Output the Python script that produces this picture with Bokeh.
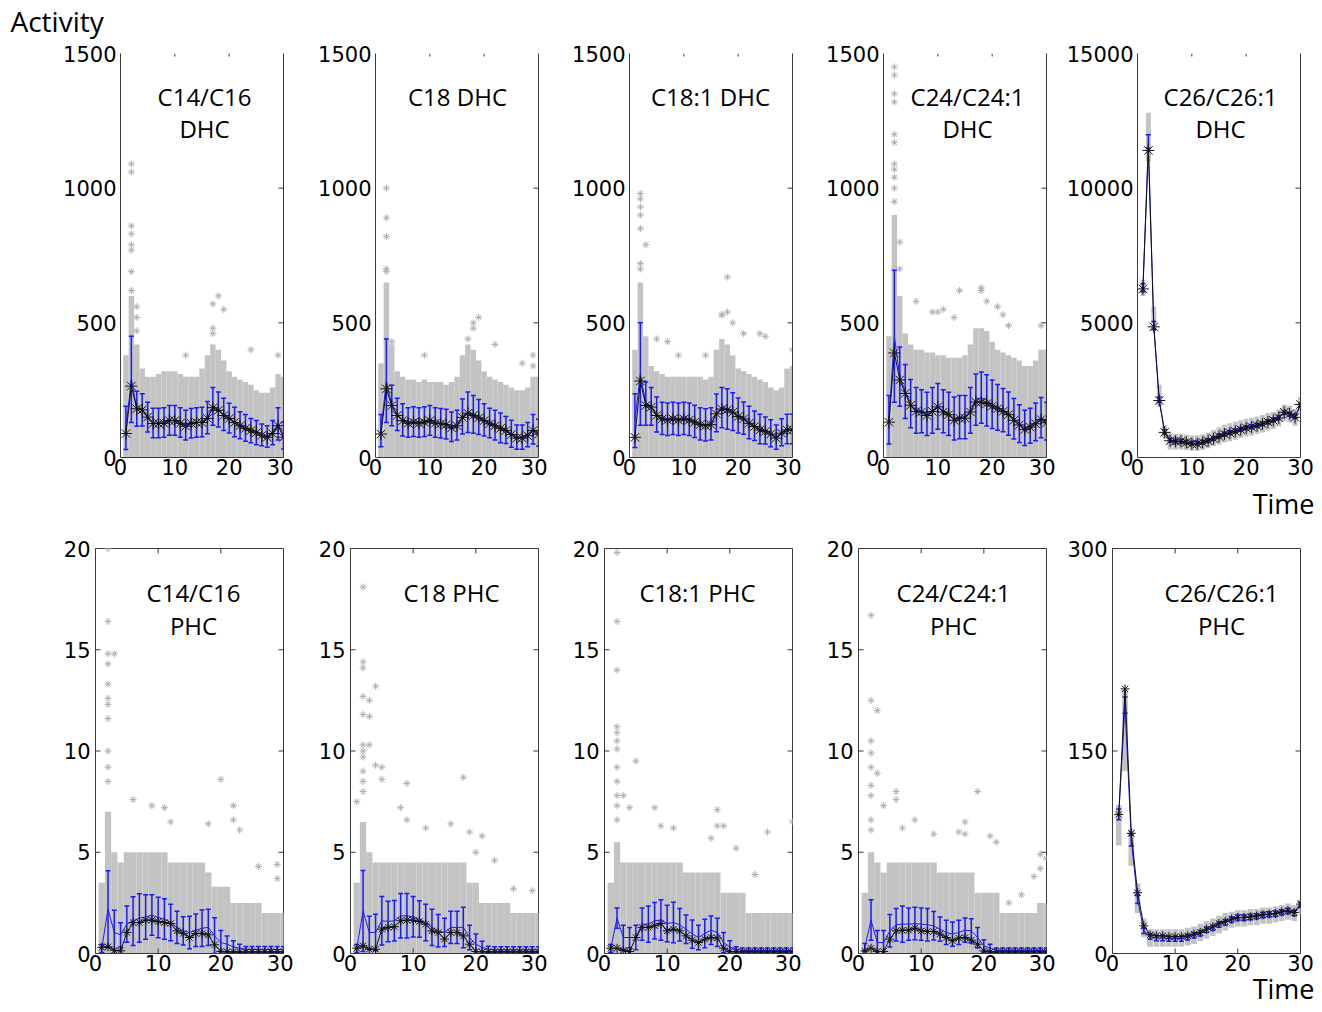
from bokeh.plotting import figure
from bokeh.layouts import row
from bokeh.models import Range1d, LinearAxis, FixedTicker, Label, GridBox
from bokeh.embed import file_html
from bokeh.resources import INLINE

time = list(range(1, 31))
x_ticks = [0, 10, 20, 30]

# ---------------- DHC (top row) ----------------
dhc_c14_black = [89,265,181,177,150,126,126,127,137,137,127,116,127,130,130,145,185,175,156,145,130,118,108,100,92,82,75,89,118,75]
dhc_c14_blue = [110,290,181,177,150,128,128,130,138,138,130,120,127,130,132,148,190,178,160,146,132,120,110,100,92,84,78,92,125,82]
dhc_c14_err = [80,160,65,60,55,55,55,55,55,55,55,55,55,55,55,60,70,65,60,55,55,50,50,45,45,40,40,45,60,50]
dhc_c14_cloud = [380,600,420,330,300,300,310,320,320,320,310,300,300,300,330,380,420,400,360,320,300,290,280,270,250,240,240,260,310,300]
dhc_c14_out_t = [2,2,2,2,2,2,2,2,3,3,3,17,17,17,18,19,12,24,29]
dhc_c14_out_v = [1090,1060,860,830,790,770,690,620,560,520,470,570,480,460,600,550,380,400,380]

dhc_c18_black = [87,255,193,156,137,127,131,127,131,137,127,125,122,110,118,149,164,156,147,137,125,118,108,100,85,72,72,81,100,87]
dhc_c18_blue = [100,285,193,160,140,130,133,130,133,138,130,127,124,114,120,152,168,160,150,140,128,120,110,102,88,76,76,85,105,92]
dhc_c18_err = [60,155,75,60,60,55,55,55,55,55,55,55,55,55,55,65,75,70,65,60,55,55,55,50,50,45,45,45,55,50]
dhc_c18_cloud = [350,650,420,320,300,290,290,280,290,280,280,280,270,280,300,380,420,400,360,320,300,290,280,270,260,250,250,260,300,300]
dhc_c18_out_t = [2,2,2,2,2,3,9,17,18,18,19,22,27,29,29]
dhc_c18_out_v = [1000,890,820,700,690,430,380,440,500,480,520,420,350,380,340]

dhc_c181_black = [75,284,193,187,156,143,139,143,139,143,139,131,122,118,122,162,180,177,168,152,143,127,115,102,97,87,72,90,102,102]
dhc_c181_blue = [137,310,200,190,160,145,142,145,142,145,142,134,125,121,125,166,185,180,170,156,146,130,118,106,100,90,76,94,106,106]
dhc_c181_err = [100,190,80,70,65,60,60,60,60,60,60,60,60,60,60,70,75,75,70,65,60,60,55,55,50,50,45,50,55,55]
dhc_c181_cloud = [400,650,450,340,320,310,300,300,300,300,300,300,300,290,300,400,440,420,380,330,320,310,300,290,280,260,250,260,330,340]
dhc_c181_out_t = [2,2,2,2,2,2,2,3,5,7,9,14,17,17,18,18,19,21,24,25,30]
dhc_c181_out_v = [980,960,930,900,850,720,700,790,440,430,380,380,530,530,670,540,500,460,460,450,400]

dhc_c24_black = [131,388,288,238,194,171,169,156,171,188,169,159,138,146,146,169,206,206,200,191,181,171,159,138,121,104,113,125,141,129]
dhc_c24_blue = [140,450,300,245,200,175,172,162,175,190,172,162,145,150,150,175,215,222,212,198,186,176,163,144,126,110,118,132,148,135]
dhc_c24_err = [90,245,110,100,90,85,80,80,85,85,80,80,80,80,80,85,95,95,95,90,85,80,80,75,70,65,65,70,75,70]
dhc_c24_cloud = [450,900,600,460,420,400,400,390,390,380,380,370,370,370,380,420,480,480,470,430,400,390,380,370,360,340,340,360,400,400]
dhc_c24_out_t = [2,2,2,2,2,2,2,2,2,2,2,3,3,6,9,10,11,13,14,18,18,19,21,22,23,29]
dhc_c24_out_v = [1450,1420,1350,1320,1200,1170,1090,1070,1040,1000,950,800,700,580,540,540,550,520,620,630,620,580,560,530,490,490]

dhc_c26_black = [6260,11400,4850,2115,933,622,600,600,560,510,510,560,620,700,780,870,910,970,1030,1100,1130,1180,1240,1320,1380,1470,1680,1620,1490,1970]
dhc_c26_blue = [6300,11730,4900,2150,950,640,610,600,570,530,530,570,630,710,800,880,930,990,1050,1110,1150,1200,1260,1330,1400,1490,1670,1610,1520,1950]
dhc_c26_err = [150,250,150,100,80,70,70,70,70,70,70,70,70,70,70,70,70,70,70,70,70,70,70,70,70,70,70,70,70,70]
dhc_c26_low = [6000,11000,4700,1900,700,300,300,300,280,250,250,280,340,420,480,560,600,660,720,780,820,870,930,1000,1060,1150,1350,1300,1180,1700]
dhc_c26_high = [6600,12800,5600,2700,1200,900,880,880,850,820,820,860,930,1020,1120,1220,1270,1330,1380,1440,1480,1520,1580,1650,1700,1780,1960,1920,1800,2250]

# ---------------- PHC (bottom row) ----------------
phc_c14_black = [0.30,0.33,0.16,0.13,1.04,1.53,1.53,1.65,1.65,1.58,1.53,1.48,1.12,0.99,0.79,0.99,0.99,0.92,0.43,0.10,0.08,0.08,0.08,0.08,0.08,0.08,0.08,0.08,0.08,0.08]
phc_c14_blue = [0.25,2.19,1.04,0.92,1.45,1.60,1.75,1.80,1.90,1.78,1.70,1.53,1.29,1.12,1.04,1.15,1.25,1.29,0.87,0.54,0.46,0.33,0.26,0.20,0.20,0.20,0.20,0.20,0.20,0.20]
phc_c14_err = [0.2,1.9,1.1,0.6,0.9,1.2,1.2,1.1,1.0,1.0,1.0,0.9,0.8,0.7,0.8,0.8,0.9,0.9,0.9,0.6,0.4,0.3,0.2,0.15,0.15,0.15,0.15,0.15,0.15,0.15]
phc_c14_cloud = [3.5,7.0,5.0,4.5,5.0,5.0,5.0,5.0,5.0,5.0,5.0,4.5,4.5,4.5,4.5,4.5,4.5,4.0,3.3,3.3,3.3,2.5,2.5,2.5,2.5,2.5,2.0,2.0,2.0,2.0]
phc_c14_out_t = [2,2,2,2,2,2,2,2,2,2,2,3,6,9,11,12,18,20,22,22,23,26,29,29]
phc_c14_out_v = [20.0,16.4,14.8,14.3,13.3,12.6,12.3,11.6,10.0,9.2,8.5,14.8,7.6,7.3,7.2,6.5,6.4,8.6,7.3,6.6,6.1,4.3,4.4,3.7]

phc_c18_black = [0.26,0.38,0.21,0.21,1.20,1.29,1.32,1.62,1.65,1.65,1.58,1.45,1.12,1.04,0.71,1.04,1.04,0.87,0.46,0.10,0.08,0.08,0.08,0.08,0.08,0.08,0.08,0.08,0.08,0.08]
phc_c18_blue = [0.25,2.10,1.04,1.04,1.62,1.58,1.62,1.86,1.86,1.81,1.70,1.53,1.29,1.12,1.04,1.29,1.29,1.29,0.79,0.46,0.30,0.21,0.18,0.18,0.18,0.18,0.18,0.18,0.18,0.18]
phc_c18_err = [0.2,2.0,0.8,0.9,1.2,1.0,1.0,1.1,1.1,1.0,0.9,0.9,0.9,0.8,0.7,0.8,0.8,1.0,0.6,0.5,0.3,0.15,0.15,0.15,0.15,0.15,0.15,0.15,0.15,0.15]
phc_c18_cloud = [3.5,6.5,5.0,4.5,4.5,4.5,4.5,4.5,4.5,4.5,4.5,4.5,4.5,4.5,4.5,4.5,4.5,4.5,3.5,3.5,2.5,2.5,2.5,2.5,2.5,2.0,2.0,2.0,2.0,2.0]
phc_c18_out_t = [1,2,2,2,2,2,2,2,2,2,2,2,3,3,3,4,4,5,5,8,9,9,12,16,18,19,20,21,23,26,29]
phc_c18_out_v = [7.5,18.1,14.4,14.1,12.7,11.8,10.3,10.0,9.7,9.0,8.5,8.0,12.5,11.7,10.3,13.2,9.3,9.2,8.6,7.2,8.4,6.6,6.2,6.4,8.7,6.0,5.0,5.8,4.6,3.2,3.1]

phc_c181_black = [0.26,0.26,0.16,0.10,0.79,1.29,1.29,1.37,1.48,1.12,1.20,1.12,0.87,0.66,0.54,0.71,0.79,0.76,0.26,0.10,0.08,0.08,0.08,0.08,0.08,0.08,0.08,0.08,0.08,0.08]
phc_c181_blue = [0.25,1.75,0.79,0.79,0.79,1.45,1.45,1.62,1.65,1.48,1.53,1.42,1.20,0.96,0.79,0.99,1.15,1.04,0.54,0.33,0.21,0.15,0.15,0.15,0.15,0.15,0.15,0.15,0.15,0.15]
phc_c181_err = [0.2,0.5,0.6,0.5,0.6,0.8,0.9,0.9,1.0,0.9,1.0,0.8,0.7,0.7,0.6,0.7,0.7,0.7,0.5,0.3,0.12,0.12,0.12,0.12,0.12,0.12,0.12,0.12,0.12,0.12]
phc_c181_cloud = [3.5,5.5,4.5,4.5,4.5,4.5,4.5,4.5,4.5,4.5,4.5,4.5,4.0,4.0,4.0,4.0,4.0,4.0,3.0,3.0,3.0,3.0,2.0,2.0,2.0,2.0,2.0,2.0,2.0,2.0]
phc_c181_out_t = [2,2,2,2,2,2,2,2,2,2,2,2,3,4,5,8,9,11,17,18,18,19,21,24,26,30]
phc_c181_out_v = [19.8,16.4,14.0,11.2,10.9,10.5,10.1,9.2,8.5,7.8,7.3,6.6,7.8,7.2,9.5,7.2,6.3,6.2,5.7,7.1,6.3,6.3,5.2,3.9,6.0,6.5]

phc_c24_black = [0.13,0.26,0.10,0.10,0.71,1.12,1.15,1.15,1.25,1.12,1.09,1.09,0.96,0.79,0.63,0.76,0.79,0.66,0.46,0.13,0.08,0.08,0.08,0.08,0.08,0.08,0.08,0.08,0.08,0.08]
phc_c24_blue = [0.30,1.65,0.54,0.54,1.12,1.42,1.45,1.45,1.48,1.45,1.42,1.37,1.20,1.04,0.96,1.04,1.15,1.12,0.79,0.38,0.26,0.15,0.15,0.15,0.15,0.15,0.15,0.15,0.15,0.15]
phc_c24_err = [0.2,1.0,0.6,0.6,0.8,0.8,0.9,0.8,0.8,0.8,0.8,0.7,0.6,0.6,0.6,0.6,0.6,0.6,0.5,0.3,0.2,0.12,0.12,0.12,0.12,0.12,0.12,0.12,0.12,0.12]
phc_c24_cloud = [3.0,5.0,4.5,4.0,4.5,4.5,4.5,4.5,4.5,4.5,4.5,4.5,4.0,4.0,4.0,4.0,4.0,4.0,3.0,3.0,3.0,3.0,2.0,2.0,2.0,2.0,2.0,2.0,2.5,2.5]
phc_c24_out_t = [2,2,2,2,2,2,2,2,2,3,3,4,6,6,7,9,12,16,17,17,19,21,22,24,26,28,29,29,30]
phc_c24_out_v = [16.7,12.5,10.5,9.9,9.2,8.3,7.8,6.6,6.1,12.0,8.9,7.3,8.0,7.6,6.2,6.6,5.9,6.0,6.5,5.9,8.0,5.8,5.5,2.5,2.9,3.8,4.9,4.2,4.7]

phc_c26_black = [103,196,89,45,20.5,13.8,13.1,13.1,12.4,12.4,12.4,13.1,14.3,15.6,18.0,19.8,22.3,23.7,25.5,26.7,26.7,27.2,27.9,28.7,29.2,29.7,30.9,31.7,30.4,36.6]
phc_c26_blue = [103,184,83.6,40,16.8,12.5,11.5,11.5,11.0,11.0,11.0,12.0,13.5,15.0,17.5,19.0,21.5,23.0,25.0,26.5,26.5,27.0,27.5,28.5,29.0,29.5,30.5,31.5,30.0,36.0]
phc_c26_err = [4,6,4,3,2,2,2,2,2,2,2,2,2,2,2,2,2,2,2,2,2,2,2,2,2,2,2,2,2,2]
phc_c26_low = [80,135,65,30,12,5,5,5,5,5,5,6,7,9,11,13,15,17,19,20,20,21,21,22,22,23,24,25,24,29]
phc_c26_high = [110,195,92,52,26,18,18,18,18,18,18,19,20,22,24,26,28,30,31,32,32,33,33,34,34,35,36,37,36,40]

top_titles = [["C14/C16", "DHC"], ["C18 DHC"], ["C18:1 DHC"], ["C24/C24:1", "DHC"], ["C26/C26:1", "DHC"]]
bot_titles = [["C14/C16", "PHC"], ["C18 PHC"], ["C18:1 PHC"], ["C24/C24:1", "PHC"], ["C26/C26:1", "PHC"]]
top_yticks = [[0, 500, 1000, 1500]] * 4 + [[0, 5000, 10000, 15000]]
bot_yticks = [[0, 5, 10, 15, 20]] * 4 + [[0, 150, 300]]
y_axis_title = "Activity"
x_axis_title = "Time"

top_data = [
    (dhc_c14_black, dhc_c14_blue, dhc_c14_err, dhc_c14_cloud, dhc_c14_out_t, dhc_c14_out_v),
    (dhc_c18_black, dhc_c18_blue, dhc_c18_err, dhc_c18_cloud, dhc_c18_out_t, dhc_c18_out_v),
    (dhc_c181_black, dhc_c181_blue, dhc_c181_err, dhc_c181_cloud, dhc_c181_out_t, dhc_c181_out_v),
    (dhc_c24_black, dhc_c24_blue, dhc_c24_err, dhc_c24_cloud, dhc_c24_out_t, dhc_c24_out_v),
    (dhc_c26_black, dhc_c26_blue, dhc_c26_err, (dhc_c26_low, dhc_c26_high), [], []),
]
bot_data = [
    (phc_c14_black, phc_c14_blue, phc_c14_err, phc_c14_cloud, phc_c14_out_t, phc_c14_out_v),
    (phc_c18_black, phc_c18_blue, phc_c18_err, phc_c18_cloud, phc_c18_out_t, phc_c18_out_v),
    (phc_c181_black, phc_c181_blue, phc_c181_err, phc_c181_cloud, phc_c181_out_t, phc_c181_out_v),
    (phc_c24_black, phc_c24_blue, phc_c24_err, phc_c24_cloud, phc_c24_out_t, phc_c24_out_v),
    (phc_c26_black, phc_c26_blue, phc_c26_err, (phc_c26_low, phc_c26_high), [], []),
]

# ---------------- layout / style ----------------
TICK_FONT = "DejaVu Sans"
TEXT_FONT = "Open Sans"
GREY = "#c3c3c3"
OUT_GREY = "#b0b0b0"
FRAME = "#3a3a3a"
BLUE = "#1a1aff"
BORDER_R = [10, 9, 9, 9, 15]
TOP = dict(fw=163, fh=404, left=[120, 82, 82, 82, 82], top=53, bottom=60,
           tx=[84, 82, 81, 84, 83], ty=[43, 75], msize=12, ystand=4)
BOT = dict(fw=188, fh=405, left=[95, 57, 57, 57, 57], top=31, bottom=55,
           tx=[98, 101, 93, 95, 109], ty=[44, 77], msize=9, ystand=5)
TOTAL_W = sum(TOP["left"]) + 5 * TOP["fw"] + sum(BORDER_R)
TOTAL_H = TOP["top"] + TOP["fh"] + TOP["bottom"] + BOT["top"] + BOT["fh"] + BOT["bottom"]


def style_axis(ax):
    ax.major_label_text_font = TICK_FONT
    ax.major_label_text_font_size = "21px"
    ax.major_label_text_color = "black"
    ax.minor_tick_line_color = None
    ax.axis_line_color = FRAME
    ax.major_tick_line_color = None
    ax.major_tick_in = 0
    ax.major_tick_out = 0


def make_panel(i, top_row):
    cfg = TOP if top_row else BOT
    black, blue, err, cloud, out_t, out_v = (top_data if top_row else bot_data)[i]
    yt = (top_yticks if top_row else bot_yticks)[i]
    ymax = yt[-1]
    fw, fh = cfg["fw"], cfg["fh"]
    p = figure(frame_width=fw, frame_height=fh,
               x_range=Range1d(0, 30), y_range=Range1d(0, ymax),
               x_axis_location=None, y_axis_location=None,
               output_backend="svg", toolbar_location=None,
               min_border_left=cfg["left"][i], min_border_right=BORDER_R[i],
               min_border_top=cfg["top"], min_border_bottom=cfg["bottom"])
    p.background_fill_color = "white"
    p.border_fill_color = "white"
    p.outline_line_color = None if top_row else FRAME
    p.xgrid.visible = False
    p.ygrid.visible = False

    # axes with labels
    left = LinearAxis(ticker=FixedTicker(ticks=yt))
    style_axis(left)
    left.major_label_standoff = cfg["ystand"]
    p.add_layout(left, "left")

    below = LinearAxis(ticker=FixedTicker(ticks=x_ticks))
    style_axis(below)
    below.major_label_standoff = 1
    p.add_layout(below, "below")

    if top_row:
        right = LinearAxis(ticker=FixedTicker(ticks=[]))
        style_axis(right)
        right.major_label_standoff = 0
        p.add_layout(right, "right")

    # grey cloud of individual values
    if isinstance(cloud, tuple):
        lo, hi = cloud
        p.quad(left=[t - 0.45 for t in time], right=[t + 0.45 for t in time],
               bottom=lo, top=hi, fill_color=GREY, line_color=None)
    else:
        p.quad(left=[t - 0.5 for t in time], right=[t + 0.5 for t in time],
               bottom=[0] * len(time), top=cloud, fill_color=GREY, line_color=None)
        p.scatter(out_t, out_v, marker="asterisk", size=7, line_color=OUT_GREY, line_width=1)

    # inward tick marks
    dx = 5 * 30 / fw
    dy = 5 * ymax / fh
    inner = yt[1:-1]
    p.segment(x0=[30 - dx] * len(inner), y0=inner, x1=[30] * len(inner), y1=inner,
              line_color=FRAME, line_width=1)
    if top_row:
        p.segment(x0=[10, 20], y0=[ymax, ymax], x1=[10, 20], y1=[ymax - 0.6 * dy] * 2,
                  line_color=FRAME, line_width=1)
    else:
        p.segment(x0=[0] * len(inner), y0=inner, x1=[dx] * len(inner), y1=inner,
                  line_color=FRAME, line_width=1)
        p.segment(x0=[10, 20], y0=[ymax, ymax], x1=[10, 20], y1=[ymax - dy] * 2,
                  line_color=FRAME, line_width=1)
        p.segment(x0=[10, 20], y0=[0, 0], x1=[10, 20], y1=[dy, dy],
                  line_color=FRAME, line_width=1)

    # blue mean with error bars
    up = [m + e for m, e in zip(blue, err)]
    lo_ = [max(0, m - e) for m, e in zip(blue, err)]
    p.line(time, blue, line_color=BLUE, line_width=1)
    p.segment(x0=time, y0=lo_, x1=time, y1=up, line_color=BLUE, line_width=1.5)
    p.scatter(time, up, marker="dash", size=5, line_color=BLUE, line_width=1.5)
    p.scatter(time, lo_, marker="dash", size=5, line_color=BLUE, line_width=1.5)

    # black line with asterisks
    p.line(time, black, line_color="#111111", line_width=1)
    p.scatter(time, black, marker="asterisk", size=cfg["msize"], line_color="#111111", line_width=1)

    # in-panel titles
    titles = (top_titles if top_row else bot_titles)[i]
    for k, txt in enumerate(titles):
        p.add_layout(Label(x=0, y=ymax, x_offset=cfg["tx"][i], y_offset=-cfg["ty"][k], text=txt,
                           text_font=TEXT_FONT, text_font_size="24px", text_color="black",
                           text_align="center", text_baseline="middle"))
    return p


top_figs = [make_panel(i, True) for i in range(5)]
bot_figs = [make_panel(i, False) for i in range(5)]

# transparent overlay carrying the texts that sit outside the panels (page pixel coordinates)
ov = figure(frame_width=TOTAL_W, frame_height=TOTAL_H,
            x_range=Range1d(0, TOTAL_W), y_range=Range1d(TOTAL_H, 0),
            x_axis_location=None, y_axis_location=None,
            output_backend="svg", toolbar_location=None,
            min_border_left=0, min_border_right=0, min_border_top=0, min_border_bottom=0)
ov.xgrid.visible = False
ov.ygrid.visible = False
ov.outline_line_color = None
ov.background_fill_color = None
ov.border_fill_color = None
ov.background_fill_alpha = 0
ov.border_fill_alpha = 0
ov.add_layout(Label(x=10, y=20, text=y_axis_title, text_font=TEXT_FONT, text_font_size="28px",
                    text_color="black", text_align="left", text_baseline="middle"))
ov.add_layout(Label(x=TOTAL_W - 1, y=503, text=x_axis_title, text_font=TEXT_FONT, text_font_size="27px",
                    text_color="black", text_align="right", text_baseline="middle"))
ov.add_layout(Label(x=TOTAL_W - 1, y=988, text=x_axis_title, text_font=TEXT_FONT, text_font_size="27px",
                    text_color="black", text_align="right", text_baseline="middle"))

layout = GridBox(children=[(row(*top_figs, spacing=0), 0, 0),
                           (row(*bot_figs, spacing=0), 1, 0),
                           (ov, 0, 0, 2, 1)])

open("out.html", "w").write(file_html(layout, INLINE))
